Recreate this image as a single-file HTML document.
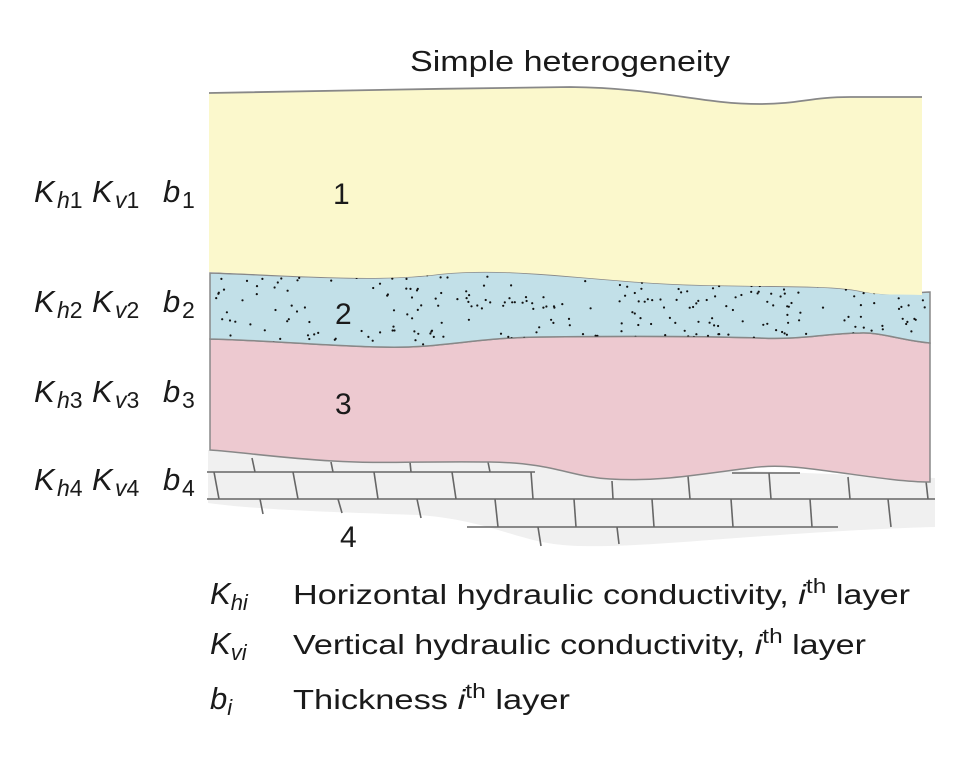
<!DOCTYPE html>
<html><head><meta charset="utf-8"><style>
html,body{margin:0;padding:0;background:#fff;}
svg{display:block;}
text{font-family:"Liberation Sans",Arial,sans-serif;fill:#1a1a1a;}
</style></head><body>
<svg id="s" width="974" height="780" viewBox="0 0 974 780" xmlns="http://www.w3.org/2000/svg">
<defs>
<clipPath id="c2"><path d="M210,273 C300,276 380,282 440,274 C520,266 600,283 700,285 C780,287 830,285 860,291 C890,296 905,293 930,292 L930,343 C900,340 880,332 860,333 C830,333 800,340 760,338 C700,336 620,336 540,337 C470,338 440,349 380,347 C330,346 260,340 210,339 Z"/></clipPath>
</defs>
<path d="M208,450 L208,503 C260,510 330,512 420,515 C500,522 520,545 580,546 C640,547 700,540 780,535 C850,530 900,528 935,527 L935,478 L208,450 Z" fill="#f0f0f0"/>
<g stroke="#666" stroke-width="1.6" fill="none">
<line x1="207" y1="472" x2="535" y2="472"/>
<line x1="732" y1="473" x2="800" y2="473"/>
<line x1="207" y1="499" x2="935" y2="499"/>
<line x1="467" y1="527" x2="838" y2="527"/>
<line x1="252" y1="458" x2="255" y2="472"/><line x1="331" y1="462" x2="333" y2="472"/><line x1="410" y1="462" x2="411" y2="472"/><line x1="488" y1="462" x2="490" y2="472"/>
<line x1="214" y1="472" x2="219" y2="499"/><line x1="293" y1="472" x2="298" y2="499"/><line x1="374" y1="472" x2="378" y2="499"/><line x1="452" y1="472" x2="456" y2="499"/><line x1="531" y1="472" x2="533" y2="499"/><line x1="612" y1="481" x2="613" y2="499"/><line x1="688" y1="476" x2="690" y2="499"/><line x1="769" y1="473" x2="771" y2="499"/><line x1="848" y1="477" x2="850" y2="499"/><line x1="926" y1="481" x2="928" y2="499"/>
<line x1="260" y1="499" x2="263" y2="514"/><line x1="338" y1="499" x2="342" y2="513"/><line x1="417" y1="499" x2="421" y2="518"/><line x1="495" y1="499" x2="498" y2="527"/><line x1="574" y1="499" x2="576" y2="527"/><line x1="652" y1="499" x2="654" y2="527"/><line x1="731" y1="499" x2="733" y2="527"/><line x1="810" y1="499" x2="812" y2="527"/><line x1="888" y1="499" x2="891" y2="527"/>
<line x1="538" y1="527" x2="541" y2="546"/><line x1="617" y1="527" x2="619" y2="544"/>
</g>
<path d="M210,339 C260,340 330,346 380,347 C440,349 470,338 540,337 C620,336 700,336 760,338 C800,340 830,333 860,333 C880,332 900,340 930,343 L930,482 C900,482 860,475 820,470 C790,466 770,465 750,468 C700,474 660,482 610,479 C570,477 555,463 490,462 C420,461 380,464 333,461 C280,458 240,452 210,450 Z" fill="#edc9d0" stroke="#888" stroke-width="1.5"/>
<path d="M210,273 C300,276 380,282 440,274 C520,266 600,283 700,285 C780,287 830,285 860,291 C890,296 905,293 930,292 L930,343 C900,340 880,332 860,333 C830,333 800,340 760,338 C700,336 620,336 540,337 C470,338 440,349 380,347 C330,346 260,340 210,339 Z" fill="#c2e0e8" stroke="#888" stroke-width="1.5"/>
<g id="dots" clip-path="url(#c2)" fill="#111"></g>
<path d="M209,93 C300,92 450,88 570,87 C660,88 700,104 760,104 C800,104 810,97 850,97 L922,97 L922,295 C900,294 880,296 860,291 C830,285 780,287 700,285 C600,283 520,266 440,274 C380,282 300,276 209,272 Z" fill="#fbf8cc"/>
<path d="M209,93 C300,92 450,88 570,87 C660,88 700,104 760,104 C800,104 810,97 850,97 L922,97" fill="none" stroke="#888" stroke-width="1.8"/>
<text x="410" y="71" font-size="29" textLength="320" lengthAdjust="spacingAndGlyphs">Simple heterogeneity</text>
<g font-size="30">
<text x="333" y="204">1</text>
<text x="335" y="324">2</text>
<text x="335" y="414">3</text>
<text x="340" y="547">4</text>
</g>
<g id="labels" font-size="31"></g>
<g font-size="28">
<text x="210" y="604"><tspan font-style="italic" font-size="31">K</tspan><tspan font-size="22" dy="6" font-style="italic">hi</tspan></text>
<text x="293" y="604" textLength="617" lengthAdjust="spacingAndGlyphs">Horizontal hydraulic conductivity, <tspan font-style="italic">i</tspan><tspan font-size="20" dy="-11">th</tspan><tspan dy="11"> layer</tspan></text>
<text x="210" y="654"><tspan font-style="italic" font-size="31">K</tspan><tspan font-size="22" dy="6" font-style="italic">vi</tspan></text>
<text x="293" y="654" textLength="573" lengthAdjust="spacingAndGlyphs">Vertical hydraulic conductivity, <tspan font-style="italic">i</tspan><tspan font-size="20" dy="-11">th</tspan><tspan dy="11"> layer</tspan></text>
<text x="210" y="709"><tspan font-style="italic" font-size="31">b</tspan><tspan font-size="22" dy="6" font-style="italic">i</tspan></text>
<text x="293" y="709" textLength="277" lengthAdjust="spacingAndGlyphs">Thickness <tspan font-style="italic">i</tspan><tspan font-size="20" dy="-11">th</tspan><tspan dy="11"> layer</tspan></text>
</g>
</svg>
<script>
(function(){var g=document.getElementById('dots');var s=12345;function r(){s=(s*1103515245+12345)%2147483648;return s/2147483648;}
var h='';for(var i=0;i<330;i++){var x=212+r()*716,y=268+r()*80;if(x>310&&x<380&&y>290&&y<330)continue;h+='<circle cx="'+x.toFixed(1)+'" cy="'+y.toFixed(1)+'" r="1.1"/>';}
g.innerHTML=h;
var L=document.getElementById('labels');var ys=[202,312,402,490];var t='';
for(var k=0;k<4;k++){var y=ys[k],n=k+1;
t+='<text x="34" y="'+y+'" font-style="italic">K</text>';
t+='<text x="57" y="'+(y+6)+'" font-size="23"><tspan font-style="italic">h</tspan>'+n+'</text>';
t+='<text x="92" y="'+y+'" font-style="italic">K</text>';
t+='<text x="115" y="'+(y+6)+'" font-size="23"><tspan font-style="italic">v</tspan>'+n+'</text>';
t+='<text x="163" y="'+y+'" font-style="italic">b</text>';
t+='<text x="182" y="'+(y+6)+'" font-size="23">'+n+'</text>';}
L.innerHTML=t;})();
</script>
</body></html>
